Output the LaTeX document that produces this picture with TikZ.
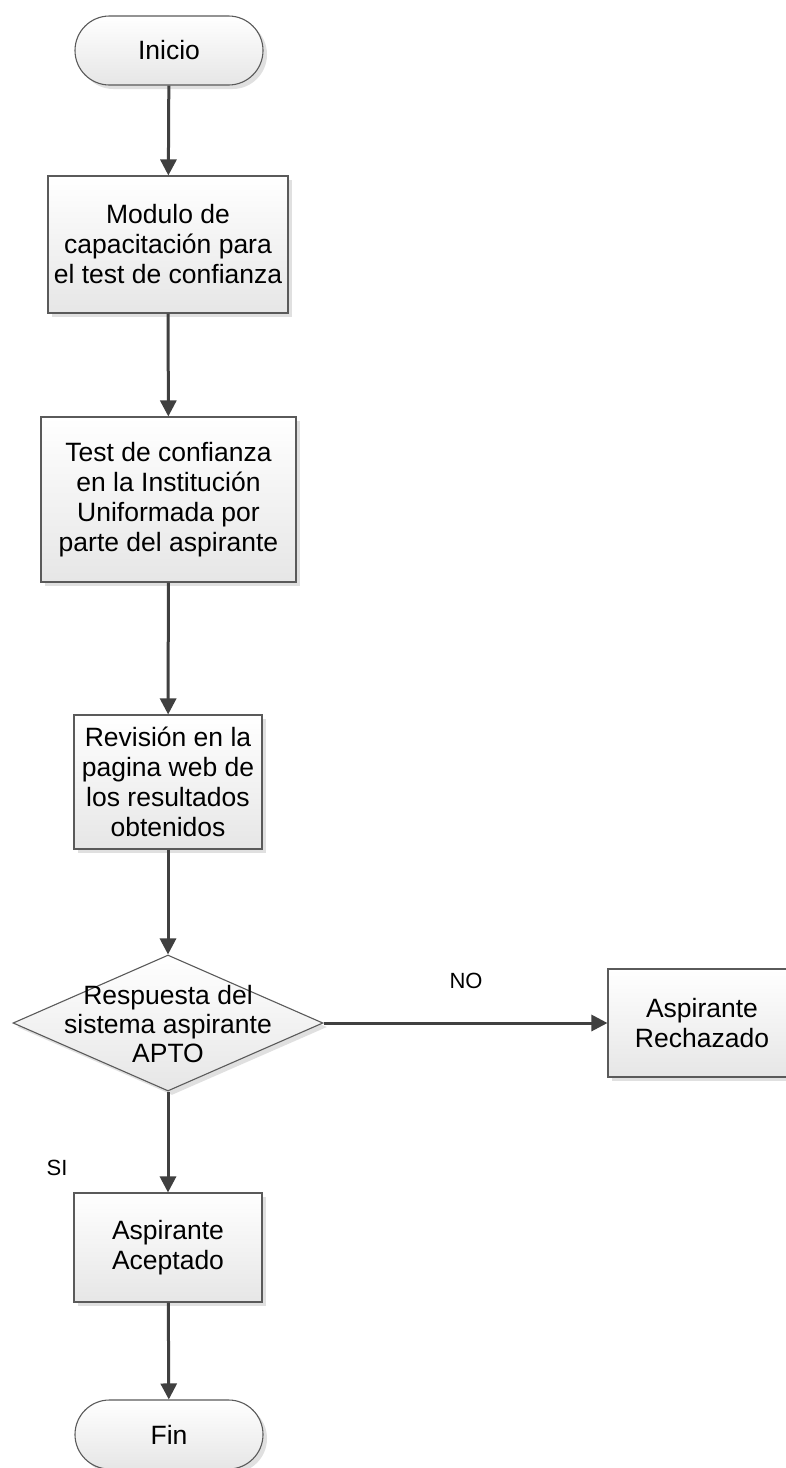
\documentclass[tikz,border=0pt]{standalone}
\usepackage{fontspec}
\setmainfont{Liberation Sans}
\usetikzlibrary{shapes.geometric,shapes.misc,shadows,arrows.meta}
\definecolor{edgegray}{HTML}{5A5A5A}
\definecolor{flowgray}{HTML}{404040}
\definecolor{fillbot}{HTML}{E6E6E6}
\definecolor{shadegray}{HTML}{E0E0E0}
\begin{document}
\begin{tikzpicture}[x=1pt,y=-1pt,
  shapebase/.style={draw=edgegray, line width=1.1pt, top color=white, bottom color=fillbot,
    drop shadow={shadow xshift=4pt, shadow yshift=-4pt, fill=shadegray, opacity=1},
    inner sep=0pt, align=center, font=\fontsize{26.5}{30}\selectfont},
  procbox/.style={shapebase, rectangle},
  termbox/.style={shapebase, rounded rectangle, minimum width=188pt, minimum height=69pt},
  decision/.style={shapebase, diamond, minimum width=310pt, minimum height=136pt},
  plain/.style={inner sep=0pt, align=center, font=\fontsize{26.5}{29}\selectfont},
  branch/.style={inner sep=0pt, font=\fontsize{22}{24}\selectfont},
  flow/.style={draw=flowgray, line width=3pt, -{Triangle[width=16pt,length=16pt]}}]
\useasboundingbox[fill=white] (0,0) rectangle (785,1468);

\node[termbox] (ini) at (169,50.5) {Inicio};
\node[procbox, minimum width=240pt, minimum height=137pt] (mod) at (168,244.5)
  {Modulo de\\capacitación para\\el test de confianza};
\node[procbox, minimum width=255pt, minimum height=165pt] (test) at (168.5,499.5)
  {Test de confianza\\en la Institución\\Uniformada por\\parte del aspirante};
\node[procbox, minimum width=188pt, minimum height=134pt] (rev) at (168,782)
  {Revisión en la\\pagina web de\\los resultados\\obtenidos};
\node[decision] (dec) at (168,1023) {};
\node[plain] (dectxt) at (168,1024) {Respuesta del\\sistema aspirante\\APTO};
\node[procbox, minimum width=188pt, minimum height=108pt] (rech) at (702,1023)
  {Aspirante\\Rechazado};
\node[procbox, minimum width=188pt, minimum height=109pt] (acep) at (168,1247.5)
  {Aspirante\\Aceptado};
\node[termbox] (fin) at (169,1434.5) {Fin};

\node[branch] (no) at (466,981) {NO};
\node[branch] (si) at (57,1168) {SI};

\draw[flow] (ini) -- (mod);
\draw[flow] (mod) -- (test);
\draw[flow] (test) -- (rev);
\draw[flow] (rev) -- (dec);
\draw[flow] (dec.east) -- (rech.west);
\draw[flow] (dec.south) -- (acep.north);
\draw[flow] (acep) -- (fin);
\end{tikzpicture}
\end{document}
